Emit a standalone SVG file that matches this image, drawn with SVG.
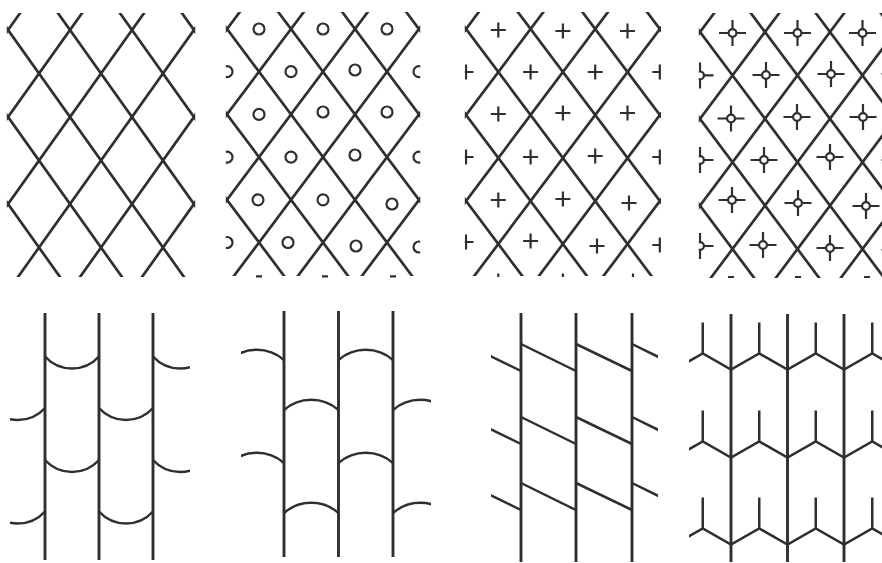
<svg xmlns="http://www.w3.org/2000/svg" xmlns:xlink="http://www.w3.org/1999/xlink" width="882" height="563" viewBox="0 0 882 563">
<style>
.ln{stroke:#2f2f2f;stroke-width:2.7;fill:none;stroke-linecap:butt}
.sym{stroke:#2f2f2f;stroke-width:2.2;fill:none}
.bt{stroke:#2f2f2f;stroke-width:2.9;fill:none}
.br{stroke:#2f2f2f;stroke-width:2.5;fill:none;stroke-linejoin:miter}
</style>
<defs>
<clipPath id="k1"><rect x="6.8" y="13" width="188.4" height="264"/></clipPath>
<clipPath id="k2"><rect x="225.8" y="12" width="194.4" height="264"/></clipPath>
<clipPath id="k3"><rect x="464.8" y="12" width="196.2" height="264"/></clipPath>
<clipPath id="k4"><rect x="698.8" y="13" width="183.2" height="265"/></clipPath>
<clipPath id="k5"><rect x="10" y="300" width="180" height="263"/></clipPath>
<clipPath id="k6"><rect x="241" y="300" width="190" height="263"/></clipPath>
<clipPath id="k7"><rect x="491" y="300" width="167" height="263"/></clipPath>
<clipPath id="k8"><rect x="689" y="300" width="193" height="263"/></clipPath>
<line id="dr1" x1="-31" y1="-43.5" x2="217" y2="304.5"/>
<line id="dl1" x1="31" y1="-43.5" x2="-217" y2="304.5"/>
<line id="dr2" x1="-32" y1="-42.7" x2="224" y2="298.9"/>
<line id="dl2" x1="32" y1="-42.7" x2="-224" y2="298.9"/>
<line id="dr3" x1="-32.3" y1="-43" x2="226.1" y2="301"/>
<line id="dl3" x1="32.3" y1="-43" x2="-226.1" y2="301"/>
<line id="dr4" x1="-32.5" y1="-43.4" x2="227.5" y2="303.8"/>
<line id="dl4" x1="32.5" y1="-43.4" x2="-227.5" y2="303.8"/>
<circle id="ci" r="5.5"/>
<path id="pl" d="M-7.5,0H7.5M0,-7.5V7.5"/>
<g id="xh"><circle r="3.9"/><path d="M-13.5,0H-3.9M3.9,0H13.5M0,-13V-3.9M0,3.9V13"/></g>
</defs>
<rect width="882" height="563" fill="#ffffff"/>

<g id="panel1" class="ln" clip-path="url(#k1)">
<use href="#dr1" x="-178" y="30"/><use href="#dr1" x="-116" y="30"/><use href="#dr1" x="-54" y="30"/><use href="#dr1" x="8" y="30"/><use href="#dr1" x="70" y="30"/><use href="#dr1" x="132" y="30"/><use href="#dr1" x="194" y="30"/>
<use href="#dl1" x="8" y="30"/><use href="#dl1" x="70" y="30"/><use href="#dl1" x="132" y="30"/><use href="#dl1" x="194" y="30"/><use href="#dl1" x="256" y="30"/><use href="#dl1" x="318" y="30"/><use href="#dl1" x="380" y="30"/>
</g>

<g id="panel2">
<g class="ln" clip-path="url(#k2)">
<use href="#dr2" x="35" y="29"/><use href="#dr2" x="99" y="29"/><use href="#dr2" x="163" y="29"/><use href="#dr2" x="227" y="29"/><use href="#dr2" x="291" y="29"/><use href="#dr2" x="355" y="29"/><use href="#dr2" x="419" y="29"/>
<use href="#dl2" x="227" y="29"/><use href="#dl2" x="291" y="29"/><use href="#dl2" x="355" y="29"/><use href="#dl2" x="419" y="29"/><use href="#dl2" x="483" y="29"/><use href="#dl2" x="547" y="29"/><use href="#dl2" x="611" y="29"/>
</g>
<g class="sym" clip-path="url(#k2)">
<use href="#ci" x="259" y="29"/><use href="#ci" x="323" y="29"/><use href="#ci" x="387" y="29"/>
<use href="#ci" x="227" y="71.7"/><use href="#ci" x="291" y="71.7"/><use href="#ci" x="355" y="70"/><use href="#ci" x="419" y="71.7"/>
<use href="#ci" x="259" y="114.4"/><use href="#ci" x="323" y="112"/><use href="#ci" x="387" y="112"/>
<use href="#ci" x="227" y="157.1"/><use href="#ci" x="291" y="157.1"/><use href="#ci" x="355" y="155"/><use href="#ci" x="419" y="157.1"/>
<use href="#ci" x="258" y="199.8"/><use href="#ci" x="323" y="199.8"/><use href="#ci" x="392" y="204"/>
<use href="#ci" x="227" y="242.5"/><use href="#ci" x="288" y="242.5"/><use href="#ci" x="356" y="246"/><use href="#ci" x="419" y="247"/>
</g>
<path class="sym" d="M256,276.3H262M322,276.3H328M390,276.3H396"/>
</g>

<g id="panel3">
<g class="ln" clip-path="url(#k3)">
<use href="#dr3" x="272.2" y="29"/><use href="#dr3" x="336.8" y="29"/><use href="#dr3" x="401.4" y="29"/><use href="#dr3" x="466" y="29"/><use href="#dr3" x="530.6" y="29"/><use href="#dr3" x="595.2" y="29"/><use href="#dr3" x="659.8" y="29"/>
<use href="#dl3" x="466" y="29"/><use href="#dl3" x="530.6" y="29"/><use href="#dl3" x="595.2" y="29"/><use href="#dl3" x="659.8" y="29"/><use href="#dl3" x="724.4" y="29"/><use href="#dl3" x="789" y="29"/><use href="#dl3" x="853.6" y="29"/>
</g>
<g class="sym" clip-path="url(#k3)">
<use href="#pl" x="498.3" y="30"/><use href="#pl" x="562.9" y="31"/><use href="#pl" x="627.5" y="31"/>
<use href="#pl" x="466" y="72"/><use href="#pl" x="530.6" y="72"/><use href="#pl" x="595.2" y="72"/><use href="#pl" x="659.8" y="72"/>
<use href="#pl" x="498.3" y="114"/><use href="#pl" x="562.9" y="113"/><use href="#pl" x="627.5" y="113"/>
<use href="#pl" x="466" y="157"/><use href="#pl" x="530.6" y="157"/><use href="#pl" x="595.2" y="156"/><use href="#pl" x="659.8" y="157"/>
<use href="#pl" x="498.3" y="200"/><use href="#pl" x="562.9" y="199"/><use href="#pl" x="629" y="203"/>
<use href="#pl" x="466" y="242"/><use href="#pl" x="530.6" y="241"/><use href="#pl" x="597" y="246"/><use href="#pl" x="659.8" y="245"/>
</g>
<path class="sym" d="M498.3,273.5V277M562.9,273.5V277M633,273.5V277"/>
</g>

<g id="panel4">
<g class="ln" clip-path="url(#k4)">
<use href="#dr4" x="505" y="32"/><use href="#dr4" x="570" y="32"/><use href="#dr4" x="635" y="32"/><use href="#dr4" x="700" y="32"/><use href="#dr4" x="765" y="32"/><use href="#dr4" x="830" y="32"/><use href="#dr4" x="895" y="32"/>
<use href="#dl4" x="700" y="32"/><use href="#dl4" x="765" y="32"/><use href="#dl4" x="830" y="32"/><use href="#dl4" x="895" y="32"/><use href="#dl4" x="960" y="32"/><use href="#dl4" x="1025" y="32"/><use href="#dl4" x="1090" y="32"/>
</g>
<g class="sym" clip-path="url(#k4)">
<use href="#xh" x="732.5" y="33"/><use href="#xh" x="797.5" y="33"/><use href="#xh" x="862.5" y="33"/>
<use href="#xh" x="700" y="75.4"/><use href="#xh" x="766" y="75"/><use href="#xh" x="831" y="74"/><use href="#xh" x="895" y="74"/>
<use href="#xh" x="731" y="118.5"/><use href="#xh" x="797" y="117"/><use href="#xh" x="863" y="117"/>
<use href="#xh" x="700" y="160"/><use href="#xh" x="764" y="160"/><use href="#xh" x="830" y="157"/><use href="#xh" x="895" y="160"/>
<use href="#xh" x="732" y="200"/><use href="#xh" x="798" y="203"/><use href="#xh" x="866" y="206"/>
<use href="#xh" x="700" y="246"/><use href="#xh" x="763" y="245"/><use href="#xh" x="830" y="248"/><use href="#xh" x="895" y="250"/>
</g>
<path class="sym" d="M728,277H734M795,277H801M864,277H870"/>
</g>

<g id="panel5" clip-path="url(#k5)">
<path class="bt" d="M45,313V560M99,313V560M153,313V560"/>
<path class="br" d="M-9,408A36.4,36.4 0 0 0 45,408M45,356.5A36.4,36.4 0 0 0 99,356.5M99,408A36.4,36.4 0 0 0 153,408M153,356.5A36.4,36.4 0 0 0 207,356.5M-9,511.5A36.4,36.4 0 0 0 45,511.5M45,460A36.4,36.4 0 0 0 99,460M99,511.5A36.4,36.4 0 0 0 153,511.5M153,460A36.4,36.4 0 0 0 207,460"/>
</g>

<g id="panel6" clip-path="url(#k6)">
<path class="bt" d="M284,311V557M338.5,311V557M393,311V557"/>
<path class="br" d="M229.5,360A41.45,41.45 0 0 1 284,360M284,410A41.45,41.45 0 0 1 338.5,410M338.5,360A41.45,41.45 0 0 1 393,360M393,410A41.45,41.45 0 0 1 447.5,410M229.5,463A41.45,41.45 0 0 1 284,463M284,513A41.45,41.45 0 0 1 338.5,513M338.5,463A41.45,41.45 0 0 1 393,463M393,513A41.45,41.45 0 0 1 447.5,513"/>
</g>

<g id="panel7" clip-path="url(#k7)">
<path class="bt" d="M521,313V562M576,313V562M632,313V562"/>
<path class="br" d="M466,344L521,371M521,344L576,371M576,344L632,371M632,344L687,371M466,417L521,444M521,417L576,444M576,417L632,444M632,417L687,444M466,483L521,510M521,483L576,510M576,483L632,510M632,483L687,510"/>
</g>

<g id="panel8" clip-path="url(#k8)">
<path class="bt" d="M731,314V562M787.5,314V562M844,314V562"/>
<path class="br" d="M674.5,369.5L702.75,353.5L731,369.5L759.25,353.5L787.5,369.5L815.75,353.5L844,369.5L872.25,353.5L900.5,369.5M674.5,457.5L702.75,441.5L731,457.5L759.25,441.5L787.5,457.5L815.75,441.5L844,457.5L872.25,441.5L900.5,457.5M674.5,544.5L702.75,528.5L731,544.5L759.25,528.5L787.5,544.5L815.75,528.5L844,544.5L872.25,528.5L900.5,544.5"/>
<path class="br" d="M702.75,353.5V322.5M759.25,353.5V322.5M815.75,353.5V322.5M872.25,353.5V322.5M702.75,441.5V410.5M759.25,441.5V410.5M815.75,441.5V410.5M872.25,441.5V410.5M702.75,528.5V497.5M759.25,528.5V497.5M815.75,528.5V497.5M872.25,528.5V497.5"/>
</g>
</svg>
